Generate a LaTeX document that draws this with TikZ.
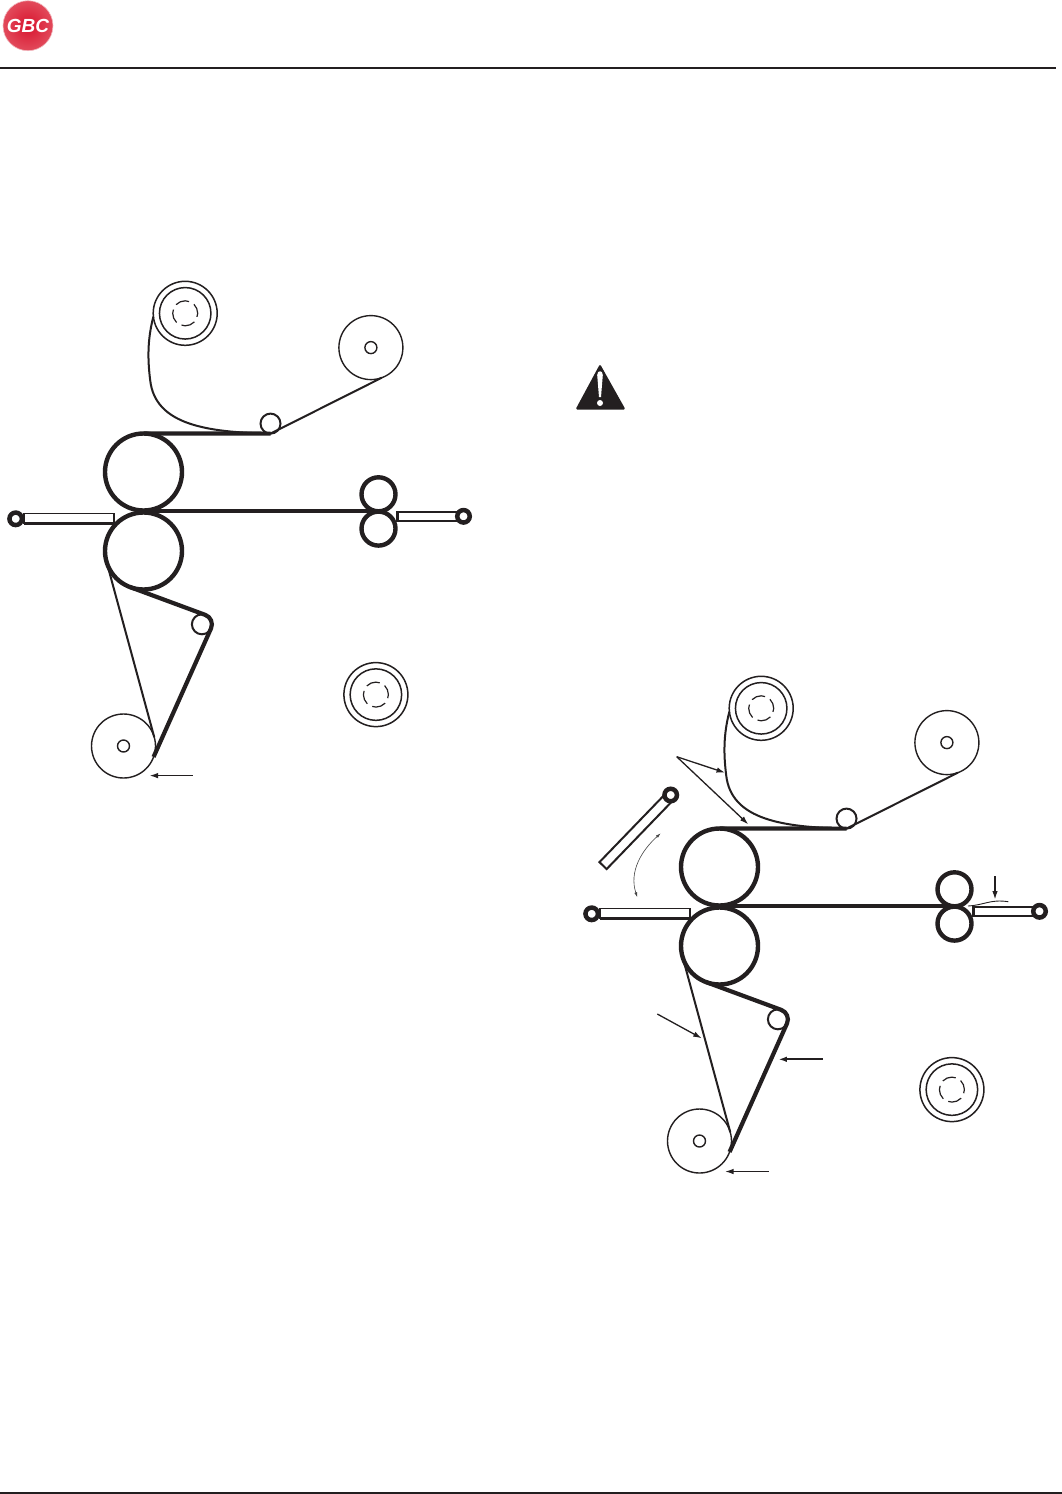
\documentclass[tikz,border=0pt]{standalone}
\usepackage{xcolor}
\usepackage{fontspec}
\usepackage{tikz}
\usetikzlibrary{arrows.meta,positioning}
\newfontfamily\logofont{Liberation Sans}
\definecolor{ink}{HTML}{231F20}
\definecolor{logored}{HTML}{D8142E}
\definecolor{logorim}{HTML}{E24A5B}
\definecolor{logoedge}{HTML}{F2B8BF}
\definecolor{swinggray}{HTML}{444444}
\newcommand{\fullroll}[2]{%
  \node[spool] (#1) at (#2) {};
  \node[spoolwrap] (#1wrap) at (#2) {};
  \node[spoolcore] (#1core) at (#2) {};
}
\newcommand{\threading}{%
  \fullroll{supply}{185,313}
  \node[plainroll] (takeup) at (370.7,347.3) {};
  \node[hubring] (takeuphub) at (takeup) {};
  \node[idler] (topidler) at (270.3,423.3) {};
  \node[mainroll] (uproll) at (143.3,471.7) {};
  \node[mainroll, below=2pt of uproll] (lowroll) {};
  \node[pullroll] (pullup) at (378.3,494) {};
  \node[pullroll, below=0.3pt of pullup] (pulllow) {};
  \node[bar] (inbar) at (68.8,518.3) {};
  \node[pin] (inpin) at (15.5,518.5) {};
  \draw[line width=3pt, draw=ink] (inbar.south west) -- (inbar.south east);
  \node[bar, minimum width=61pt, minimum height=9pt, line width=2.6pt] (outbar) at (427.5,516) {};
  \node[pin] (outpin) at (463.3,516) {};
  \node[idler] (lowidler) at (201.7,624) {};
  \node[plainroll] (botroll) at (123.3,745.7) {};
  \node[hubring] (bothub) at (botroll) {};
  \fullroll{spare}{375.7,694.3}
  % web paths
  \draw[webthin] (supply.186) .. controls (147,340) and (147.5,360) .. (150,380)
    .. controls (155,425) and (208,432) .. (topidler.south);
  \draw[webthin] (topidler.south) -- (takeup.-70);
  \draw[webthick] (uproll.north) -- (topidler.south);
  \draw[webthick] (uproll.south |- pullup.south) -- (pullup.south);
  \draw[webthin] (lowroll.196) -- (botroll.16);
  \draw[webthick] (lowroll.250) -- (lowidler.70) to[out=-20, in=66] (lowidler.-24) -- (botroll.-20);
}
\begin{document}
\begin{tikzpicture}[
  x=1pt, y=-1pt,
  spool/.style={circle, draw=ink, line width=1.5pt, minimum size=64pt, inner sep=0pt, outer sep=0pt},
  spoolwrap/.style={circle, draw=ink, line width=1.5pt, minimum size=51.5pt, inner sep=0pt, outer sep=0pt},
  spoolcore/.style={circle, draw=ink, line width=1.2pt, dash pattern=on 14pt off 5.6pt, dash phase=4pt,
                    minimum size=25pt, inner sep=0pt, outer sep=0pt},
  plainroll/.style={circle, draw=ink, line width=1.4pt, minimum size=64pt, inner sep=0pt, outer sep=0pt},
  hubring/.style={circle, draw=ink, line width=1.4pt, minimum size=12pt, inner sep=0pt, outer sep=0pt},
  idler/.style={circle, draw=ink, line width=2pt, fill=white, minimum size=20pt, inner sep=0pt, outer sep=0pt},
  mainroll/.style={circle, draw=ink, line width=4.4pt, minimum size=77pt, inner sep=0pt, outer sep=0pt},
  pullroll/.style={circle, draw=ink, line width=4.4pt, minimum size=34pt, inner sep=0pt, outer sep=0pt},
  bar/.style={rectangle, draw=ink, line width=1.5pt, fill=white, minimum width=90pt, minimum height=10pt,
              inner sep=0pt, outer sep=0pt},
  pin/.style={circle, draw=ink, line width=4.5pt, fill=white, minimum size=12.5pt, inner sep=0pt, outer sep=0pt},
  webthin/.style={draw=ink, line width=2pt},
  webthick/.style={draw=ink, line width=4.2pt},
  callout/.style={-{Latex[length=8.5pt, width=5.5pt]}, draw=ink, line width=1.3pt},
  swing/.style={{Latex[length=5pt, width=3pt]}-{Latex[length=5pt, width=3pt]}, draw=swinggray, line width=0.6pt},
  logodisc/.style={circle, draw=logoedge, line width=0.6pt, inner color=logored, outer color=logorim,
                   minimum size=50pt, inner sep=0pt, outer sep=0pt, text=white,
                   font=\logofont\bfseries\itshape\fontsize{19}{19}\selectfont}
]
  \useasboundingbox (0,0) rectangle (1062,1494);
  \fill[white] (0,0) rectangle (1062,1494);

  \node[logodisc] (logo) at (28,25.7) {GBC};
  \coordinate (headleft) at (0,68);
  \coordinate (headright) at (1056,68);
  \coordinate (footleft) at (0,1493);
  \coordinate (footright) at (1062,1493);
  \draw[draw=ink, line width=1.6pt] (headleft) -- (headright);
  \draw[draw=ink, line width=2pt] (footleft) -- (footright);

  \begin{scope}[shift={(0.2,0.3)}, name prefix=a-]
    \threading
    \coordinate (arrowtail) at (192.7,775.3);
    \coordinate (arrowtip) at (149.3,775.3);
    \draw[callout] (arrowtail) -- (arrowtip);
  \end{scope}

  % warning sign
  \fill[ink, rounded corners=1.5pt] (600,364) -- (625.5,409.5) -- (575.5,409.5) -- cycle;
  \fill[white] (597.2,375) .. controls (597.2,370) and (602.8,370) .. (602.8,375) -- (601,397) -- (599,397) -- cycle;
  \fill[white] (600,403) circle[radius=3pt];

  \begin{scope}[shift={(576.2,395.3)}, name prefix=b-]
    \threading
  \end{scope}

  % second threading, callouts
  \node[bar, rotate=46, minimum width=92pt, line width=2pt] (raisedbar) at (635,832.5) {};
  \node[pin] (raisedpin) at (670.7,795) {};
  \coordinate (fork) at (676.7,756.7);
  \coordinate (forkone) at (725,772.7);
  \coordinate (forktwo) at (748.3,824.3);
  \draw[callout] (fork) -- (forkone);
  \draw[callout] (fork) -- (forktwo);
  \coordinate (swingtop) at (660.7,833.3);
  \coordinate (swinglow) at (637.3,897.3);
  \draw[swing] (swinglow) to[out=108, in=222] (swingtop);
  \coordinate (liptail) at (995,876);
  \coordinate (liptip) at (995,899.5);
  \draw[callout] (liptail) -- (liptip);
  \coordinate (lipstart) at (968,906);
  \coordinate (lipend) at (1008.3,901.7);
  \draw[draw=ink, line width=0.9pt] (lipstart) .. controls (985,905) and (990,899) .. (lipend);
  \coordinate (thintail) at (657.3,1014);
  \coordinate (thintip) at (701.7,1038.3);
  \draw[callout] (thintail) -- (thintip);
  \coordinate (thicktail) at (822.7,1059.3);
  \coordinate (thicktip) at (778.3,1059.3);
  \draw[callout, line width=1.8pt] (thicktail) -- (thicktip);
  \coordinate (lowtail) at (768.7,1171.5);
  \coordinate (lowtip) at (725,1171.5);
  \draw[callout] (lowtail) -- (lowtip);
\end{tikzpicture}
\end{document}
